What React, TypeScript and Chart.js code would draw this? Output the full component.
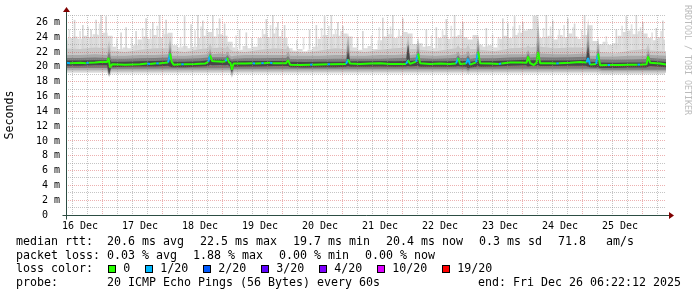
import React, { useEffect, useRef } from 'react';
import { Chart, registerables } from 'chart.js';

Chart.register(...registerables);

// ---------------- axis data ----------------
// x values are hours counted from 16 Dec 00:00; the graph spans 16 Dec 06:22 .. 26 Dec 06:22
const X_START_HOUR = 6.37;
const X_END_HOUR = 246.37;
const Y_MAX_MS = 27;
const DAY_LABELS = ['16 Dec', '17 Dec', '18 Dec', '19 Dec', '20 Dec', '21 Dec', '22 Dec', '23 Dec', '24 Dec', '25 Dec'];
const Y_TICK_LABELS = ['0  ', '2 m', '4 m', '6 m', '8 m', '10 m', '12 m', '14 m', '16 m', '18 m', '20 m', '22 m', '24 m', '26 m'];

// ---------------- smoke (outer, light) ----------------
const SMOKE_HOURS = [
  6, 8, 10, 12, 14, 16, 18, 20, 22,
  24, 26, 28, 30, 32, 34, 36, 38, 40, 42, 44, 46,
  48, 50, 52, 54, 56, 58, 60, 62, 64, 66, 68, 70,
  72, 74, 76, 78, 80, 82, 84, 86, 88, 90, 92, 94,
  96, 98, 100, 102, 104, 106, 108, 110, 112, 114, 116, 118,
  120, 122, 124, 126, 128, 130, 132, 134, 136, 138, 140, 142,
  144, 146, 148, 150, 152, 154, 156, 158, 160, 162, 164, 166,
  168, 170, 172, 174, 176, 178, 180, 182, 184, 186, 188, 190,
  192, 194, 196, 198, 200, 202, 204, 206, 208, 210, 212, 214,
  216, 218, 220, 222, 224, 226, 228, 230, 232, 234, 236, 238,
  240, 242, 244, 246,
];
const SMOKE_TOP_MS = [
  23.6, 23.9, 24.1, 23.8, 24.2, 24.0, 24.4, 24.3, 24.6,
  24.2, 22.7, 22.4, 22.6, 22.5, 22.9, 23.7, 24.1, 23.8, 24.3, 24.0, 24.4,
  24.6, 22.9, 22.6, 22.8, 22.5, 22.7, 23.9, 24.2, 24.7, 24.1, 24.4, 24.2,
  23.4, 22.6, 22.3, 22.8, 22.5, 22.7, 23.9, 24.4, 24.0, 24.5, 24.1, 23.9,
  22.5, 22.2, 22.4, 22.1, 22.3, 22.7, 23.8, 24.3, 24.0, 24.4, 24.2, 24.5,
  24.1, 22.6, 22.3, 22.5, 22.8, 22.4, 23.6, 24.1, 24.4, 23.9, 24.2, 24.7,
  24.5, 23.1, 23.2, 22.7, 22.8, 22.5, 23.9, 24.3, 23.8, 24.1, 24.3, 24.0,
  23.7, 24.3, 23.0, 22.7, 22.9, 22.6, 23.8, 24.2, 23.9, 24.3, 24.6, 24.9,
  25.1, 26.9, 23.9, 24.0, 24.2, 23.7, 24.3, 24.0, 24.5, 24.1, 23.8, 24.3,
  25.6, 23.5, 23.1, 23.4, 23.0, 23.2, 24.2, 24.7, 24.9, 24.4, 24.8, 24.5,
  23.9, 23.6, 24.0, 23.7,
];

// thin single-ping spikes above the smoke
const SPIKE_BASE_MS = 22.4;
const SPIKE_HOURS = [
  10.0, 13.3, 16.6, 18.6, 20.6, 22.6, 28.6, 30.6, 34.6, 38.6, 41.3, 44.0, 46.6,
  54.0, 56.6, 59.3, 61.3, 65.3, 68.0, 70.0, 76.0, 78.7, 86.7, 89.3, 91.3, 94.0,
  104.0, 106.7, 110.0, 112.7, 115.3, 117.3, 125.3, 133.3, 137.3, 141.3,
  150.7, 154.7, 158.7, 162.0, 165.3, 174.7, 181.3, 183.3, 186.0, 189.3,
  198.7, 201.3, 207.3, 210.0, 214.0, 226.7, 230.7, 234.7, 237.3, 242.7, 245.3,
];
const SPIKE_TOP_MS = [
  26.3, 25.6, 25.0, 26.3, 27.0, 26.8, 24.6, 25.3, 24.8, 26.5, 26.0, 27.0, 26.3,
  26.8, 25.7, 27.0, 26.2, 27.0, 26.5, 25.8, 25.0, 24.6, 26.4, 27.0, 26.0, 25.6,
  25.0, 25.6, 26.8, 27.0, 26.0, 25.5, 24.8, 26.6, 27.0, 26.5,
  25.0, 25.3, 26.4, 27.0, 26.0, 25.2, 26.5, 25.8, 26.8, 26.0,
  27.0, 26.2, 26.5, 25.8, 27.0, 25.0, 26.8, 27.0, 26.0, 25.2, 26.2,
];
// fainter, shorter spikes in between
const FAINT_SPIKE_HOURS = [
  7.5, 11.8, 15.0, 19.6, 26.5, 32.4, 36.8, 40.0, 42.7, 45.2, 52.0, 57.8, 60.2, 62.4,
  66.6, 74.2, 80.5, 84.8, 88.0, 90.2, 92.6, 98.5, 101.2, 108.4, 111.3, 114.0, 116.2,
  122.8, 128.4, 131.5, 134.8, 136.0, 139.4, 152.4, 156.8, 160.3, 164.0, 176.8, 179.2,
  185.0, 187.6, 197.2, 200.0, 203.5, 205.4, 209.0, 212.4, 222.3, 228.6, 232.4, 236.0,
  240.6, 244.2,
];
const FAINT_SPIKE_TOP_MS = [
  25.0, 24.8, 25.4, 25.8, 23.8, 24.0, 25.2, 25.0, 25.5, 25.1, 24.0, 24.9, 25.4, 25.0,
  25.2, 24.2, 23.9, 25.0, 25.6, 25.3, 24.9, 23.6, 23.9, 25.2, 25.5, 25.0, 24.8,
  23.9, 24.2, 25.3, 25.1, 25.4, 25.0, 24.2, 24.9, 25.5, 25.0, 24.3, 24.0,
  25.4, 25.6, 25.2, 25.4, 25.0, 25.6, 25.3, 25.0, 24.1, 25.5, 25.7, 25.3,
  24.6, 24.8,
];

// ---------------- inner smoke layers ----------------
const BAND_HOURS = [
  6, 12, 18, 22.8, 23.6, 24.4, 30, 36, 42, 47.2,
  48, 48.8, 54, 60, 63.2, 64, 64.8, 68, 70.2, 71,
  71.8, 72.7, 73.5, 78, 84, 90, 94.4, 95.2, 96, 102,
  108, 114, 118.4, 119.2, 120, 126, 132, 138, 142.4, 143.2,
  144, 146.4, 147.2, 148, 154, 160, 162.4, 163.2, 164, 166.4,
  167.2, 168, 170.4, 171.2, 172, 178, 184, 190.4, 191.2, 192,
  194.4, 195.2, 196, 202, 208, 214.4, 215.2, 216, 218.4, 219.2,
  220, 226, 232, 238.4, 239.2, 240, 246.4,
];
const BAND2_TOP_MS = [
  22.5, 22.4, 22.6, 22.5, 23.6, 22.2, 22.0, 22.3, 22.5, 22.5,
  24.2, 22.2, 22.0, 22.4, 22.5, 23.2, 22.5, 22.6, 22.5, 22.8,
  22.4, 22.2, 22.1, 22.0, 22.3, 22.5, 22.4, 22.9, 22.1, 21.9,
  22.2, 22.5, 22.4, 24.6, 22.2, 22.0, 22.3, 22.5, 22.6, 24.4,
  22.4, 22.4, 24.0, 22.3, 22.1, 22.4, 22.5, 22.9, 22.5, 22.5,
  23.0, 22.4, 22.4, 24.4, 22.3, 22.1, 22.5, 22.6, 22.9, 22.6,
  22.7, 27.0, 22.7, 22.5, 22.6, 22.6, 26.6, 22.3, 22.2, 24.0,
  22.0, 21.8, 22.2, 22.4, 23.1, 22.2, 22.1,
];
const BAND3_TOP_MS = [
  21.6, 21.6, 21.7, 21.6, 22.8, 21.5, 21.5, 21.6, 21.6, 21.7,
  23.5, 21.5, 21.5, 21.6, 21.7, 22.5, 21.7, 21.8, 21.7, 22.1,
  21.6, 21.4, 21.5, 21.6, 21.6, 21.6, 21.6, 22.1, 21.5, 21.5,
  21.5, 21.6, 21.6, 24.0, 21.5, 21.5, 21.6, 21.6, 21.7, 23.6,
  21.6, 21.7, 23.2, 21.6, 21.5, 21.6, 21.7, 22.1, 21.6, 21.7,
  22.2, 21.6, 21.7, 23.7, 21.6, 21.6, 21.7, 21.7, 22.3, 21.7,
  21.8, 25.4, 21.8, 21.7, 21.7, 21.8, 25.0, 21.5, 21.5, 23.2,
  21.4, 21.4, 21.5, 21.5, 22.4, 21.6, 21.5,
];
const BAND4_TOP_MS = [
  21.2, 21.2, 21.25, 21.2, 22.0, 21.1, 21.1, 21.15, 21.2, 21.25,
  22.6, 21.1, 21.1, 21.15, 21.25, 21.9, 21.3, 21.3, 21.3, 21.6,
  21.2, 21.0, 21.1, 21.15, 21.15, 21.2, 21.2, 21.5, 21.05, 21.05,
  21.05, 21.1, 21.1, 23.0, 21.1, 21.1, 21.1, 21.15, 21.2, 23.0,
  21.2, 21.25, 22.4, 21.15, 21.1, 21.15, 21.2, 21.6, 21.2, 21.2,
  21.6, 21.1, 21.2, 22.8, 21.15, 21.15, 21.25, 21.3, 21.8, 21.25,
  21.3, 23.4, 21.3, 21.25, 21.3, 21.35, 23.6, 21.1, 21.05, 22.4,
  21.0, 20.95, 21.0, 21.05, 21.8, 21.2, 21.05,
];
const BAND5_TOP_MS = [
  20.85, 20.85, 20.9, 20.9, 21.3, 20.7, 20.7, 20.75, 20.8, 20.85,
  21.9, 20.7, 20.7, 20.75, 20.9, 21.5, 21.0, 21.0, 20.95, 21.25,
  20.9, 20.7, 20.75, 20.8, 20.8, 20.8, 20.8, 21.0, 20.7, 20.65,
  20.7, 20.7, 20.7, 22.1, 20.75, 20.75, 20.8, 20.75, 20.8, 23.0,
  20.8, 20.85, 21.9, 20.8, 20.75, 20.75, 20.8, 21.25, 20.8, 20.8,
  21.25, 20.7, 20.8, 22.1, 20.8, 20.8, 20.85, 20.95, 21.45, 20.9,
  20.9, 22.1, 20.85, 20.85, 20.85, 20.95, 22.7, 20.7, 20.65, 21.9,
  20.6, 20.55, 20.6, 20.6, 21.4, 20.85, 20.65,
];
const BAND5_BOTTOM_MS = [
  20.15, 20.15, 20.2, 20.2, 19.0, 19.95, 20.0, 20.05, 20.05, 20.15,
  20.0, 19.95, 19.95, 20.05, 20.1, 20.3, 20.2, 20.25, 20.2, 20.3,
  20.1, 19.3, 20.0, 20.05, 20.05, 20.1, 20.1, 20.1, 19.95, 19.9,
  19.95, 19.95, 20.0, 20.1, 20.0, 20.0, 20.05, 20.0, 20.05, 20.1,
  20.05, 20.1, 20.1, 20.0, 20.0, 20.0, 20.05, 20.1, 20.05, 20.0,
  19.8, 19.9, 20.0, 20.1, 20.0, 20.05, 20.15, 20.2, 20.0, 20.1,
  20.15, 20.2, 20.1, 20.1, 20.15, 20.15, 20.0, 19.95, 19.9, 19.95,
  19.85, 19.85, 19.9, 19.9, 20.0, 20.1, 19.95,
];

const LOW_HOURS = [6, 22.8, 23.6, 24.4, 72, 72.7, 73.5, 166.4, 167.2, 168, 219.2, 220.8, 246.4];
const BAND4_BOTTOM_MS = [19.85, 19.85, 18.9, 19.75, 19.8, 19.1, 19.75, 19.75, 19.55, 19.75, 19.75, 19.6, 19.6];
const BAND3_BOTTOM_MS = [19.6, 19.6, 18.8, 19.5, 19.55, 18.9, 19.5, 19.5, 19.35, 19.5, 19.5, 19.4, 19.4];
const BAND2_BOTTOM_MS = [19.4, 19.4, 18.7, 19.3, 19.35, 18.7, 19.3, 19.3, 19.2, 19.3, 19.3, 19.2, 19.2];
const BAND1_BOTTOM_MS = [19.2, 19.2, 18.6, 19.1, 19.15, 18.5, 19.1, 19.1, 19.0, 19.1, 19.1, 19.0, 19.0];

// ---------------- median rtt ----------------
const MEDIAN_HOURS = [
  6.4, 8, 12, 14.5, 15.5, 18, 21, 22.8, 23.4, 24.0,
  24.8, 30, 36, 38.8, 40, 42.5, 43.5, 46, 47.2, 47.7,
  48.0, 48.6, 49.4, 52.5, 53.5, 58, 62, 63.3, 64.0, 64.8,
  66, 69, 70.2, 70.8, 71.6, 72.2, 72.7, 73.4, 78, 81,
  82, 84.5, 85.5, 88, 89, 94.4, 95.2, 96, 100, 104,
  105, 111, 112, 118.4, 119.2, 120, 124, 128, 132, 136,
  142.4, 143.2, 144, 146.4, 147.2, 148, 152, 156, 160, 162.4,
  163.2, 164, 166.4, 167.2, 168, 170.4, 171.2, 172, 176, 179.5,
  180.5, 184, 188, 190.6, 191.2, 192, 193.5, 194.6, 195.2, 196,
  200, 202.5, 203.5, 208, 212, 214.6, 215.2, 216, 218.4, 219.2,
  220, 223, 224, 228, 232, 235, 236, 238.6, 239.2, 240,
  244, 246.4,
];
const MEDIAN_MS = [
  20.55, 20.5, 20.55, 20.5, 20.55, 20.6, 20.7, 20.65, 21.2, 19.9,
  20.35, 20.3, 20.35, 20.45, 20.4, 20.5, 20.45, 20.55, 20.6, 21.3,
  21.8, 20.7, 20.3, 20.35, 20.35, 20.4, 20.45, 20.7, 21.6, 20.8,
  20.75, 20.7, 20.75, 21.2, 20.6, 20.5, 19.6, 20.45, 20.45, 20.5,
  20.45, 20.5, 20.5, 20.55, 20.5, 20.5, 20.9, 20.3, 20.25, 20.3,
  20.3, 20.35, 20.35, 20.4, 21.0, 20.45, 20.4, 20.45, 20.5, 20.4,
  20.4, 20.9, 20.4, 20.7, 21.8, 20.5, 20.4, 20.45, 20.4, 20.45,
  21.2, 20.4, 20.45, 21.1, 20.3, 20.6, 22.05, 20.5, 20.45, 20.4,
  20.45, 20.6, 20.6, 20.55, 21.4, 20.5, 20.25, 20.6, 22.0, 20.5,
  20.5, 20.45, 20.5, 20.55, 20.65, 20.6, 21.2, 20.3, 20.4, 21.8,
  20.2, 20.25, 20.25, 20.25, 20.3, 20.3, 20.3, 20.35, 21.4, 20.55,
  20.45, 20.3,
];
// lost pings (of 20) for the segment starting at each median point
const MEDIAN_LOSS = [
  1, 0, 0, 1, 0, 0, 0, 0, 0, 0,
  0, 0, 0, 1, 0, 1, 0, 0, 1, 1,
  0, 0, 0, 1, 0, 0, 0, 1, 0, 0,
  0, 0, 1, 0, 0, 0, 0, 0, 0, 1,
  0, 1, 0, 1, 0, 0, 0, 0, 0, 1,
  0, 1, 0, 1, 0, 0, 0, 0, 0, 0,
  1, 0, 0, 1, 0, 0, 0, 0, 0, 1,
  0, 0, 1, 1, 0, 1, 0, 0, 0, 1,
  0, 0, 0, 0, 0, 0, 0, 0, 0, 0,
  0, 1, 0, 0, 0, 1, 1, 0, 1, 0,
  0, 1, 0, 0, 0, 1, 0, 0, 0, 0,
  0, 0,
];

// ---------------- legend ----------------
const LOSS_LEVELS = [0, 1, 2, 3, 4, 10, 19];
const LOSS_LABELS = ['0', '1/20', '2/20', '3/20', '4/20', '10/20', '19/20'];
const LOSS_COLORS = ['#26ff00', '#00b8ff', '#0059ff', '#5e00ff', '#7e00ff', '#dd00ff', '#ff0000'];
const RTT_STATS = ['20.6 ms avg', '22.5 ms max', '19.7 ms min', '20.4 ms now', '0.3 ms sd', '71.8'];
const RTT_UNIT = 'am/s';
const LOSS_STATS = ['0.03 % avg', '1.88 % max', '0.00 % min', '0.00 % now'];
const PROBE_TEXT = '20 ICMP Echo Pings (56 Bytes) every 60s';
const END_TEXT = 'end: Fri Dec 26 06:22:12 2025';
const WATERMARK = 'RRDTOOL / TOBI OETIKER';

// ---------------- styling ----------------
const MONO = "'DejaVu Sans Mono', monospace";
const SMOKE_COLORS = ['#dcdcdc', '#c8c8c8', '#a9a9a9', '#7c7c7c', '#474747'];
const GRID_COLOR = 'rgba(140,140,140,0.5)';
const MGRID_COLOR = 'rgba(210,60,60,0.4)';
const AXIS_COLOR = '#2c4d43';
const ARROW_COLOR = '#7f0000';
const LEGEND_SIZE = 11.63;
const CHAR_W = 7;

const pts = (xs: number[], ys: number[]) => xs.map((x, i) => ({ x, y: ys[i] }));
const lossColor = (n: number) => LOSS_COLORS[Math.max(0, LOSS_LEVELS.indexOf(n))];

const axisPlugin = {
  id: 'rrdAxes',
  afterDraw(chart: any) {
    const { ctx, chartArea: a } = chart;
    const x0 = Math.round(a.left) + 0.5;
    const y0 = Math.round(a.bottom) + 0.5;
    ctx.save();
    ctx.strokeStyle = AXIS_COLOR;
    ctx.lineWidth = 1;
    ctx.beginPath();
    ctx.moveTo(x0 - 4, y0);
    ctx.lineTo(a.right + 4, y0);
    ctx.moveTo(x0, y0 + 4);
    ctx.lineTo(x0, a.top - 4);
    ctx.stroke();
    ctx.fillStyle = ARROW_COLOR;
    ctx.beginPath();
    ctx.moveTo(a.right + 3, y0 - 3.5);
    ctx.lineTo(a.right + 8, y0);
    ctx.lineTo(a.right + 3, y0 + 3.5);
    ctx.closePath();
    ctx.fill();
    ctx.beginPath();
    ctx.moveTo(x0 - 3.5, a.top - 3);
    ctx.lineTo(x0, a.top - 8);
    ctx.lineTo(x0 + 3.5, a.top - 3);
    ctx.closePath();
    ctx.fill();
    ctx.restore();
  },
};

function buildConfig(): any {
  const hidden = (xs: number[], ys: number[]) => ({
    type: 'line', data: pts(xs, ys), borderWidth: 0, borderColor: 'rgba(0,0,0,0)',
    pointRadius: 0, fill: false, order: 50,
  });
  const band = (xs: number[], ys: number[], color: string, target: number, order: number, stepped: any) => ({
    type: 'line', data: pts(xs, ys), borderWidth: 0, borderColor: 'rgba(0,0,0,0)',
    backgroundColor: color, pointRadius: 0, fill: { target }, order, stepped,
  });
  const spikes = (xs: number[], ys: number[], color: string, order: number) => ({
    type: 'bar',
    data: xs.map((x, i) => ({ x, y: [SPIKE_BASE_MS, ys[i]] })),
    backgroundColor: color, barThickness: 1, order, borderWidth: 0,
  });
  const datasets: any[] = [
    hidden(LOW_HOURS, BAND1_BOTTOM_MS), // 0
    hidden(LOW_HOURS, BAND2_BOTTOM_MS), // 1
    hidden(LOW_HOURS, BAND3_BOTTOM_MS), // 2
    hidden(LOW_HOURS, BAND4_BOTTOM_MS), // 3
    hidden(BAND_HOURS, BAND5_BOTTOM_MS), // 4
    band(SMOKE_HOURS, SMOKE_TOP_MS, SMOKE_COLORS[0], 0, 30, 'middle'),
    spikes(FAINT_SPIKE_HOURS, FAINT_SPIKE_TOP_MS, '#e2e2e2', 29.5),
    spikes(SPIKE_HOURS, SPIKE_TOP_MS, '#d6d6d6', 29),
    band(BAND_HOURS, BAND2_TOP_MS, SMOKE_COLORS[1], 1, 28, false),
    band(BAND_HOURS, BAND3_TOP_MS, SMOKE_COLORS[2], 2, 27, false),
    band(BAND_HOURS, BAND4_TOP_MS, SMOKE_COLORS[3], 3, 26, false),
    band(BAND_HOURS, BAND5_TOP_MS, SMOKE_COLORS[4], 4, 25, false),
    {
      type: 'line', data: pts(MEDIAN_HOURS, MEDIAN_MS), borderWidth: 2, pointRadius: 0, fill: false,
      borderColor: LOSS_COLORS[0], borderJoinStyle: 'bevel', order: 1,
      segment: { borderColor: (c: any) => lossColor(MEDIAN_LOSS[c.p0DataIndex]) },
    },
  ];

  const tickFont = { family: MONO, size: 10 };
  return {
    type: 'line',
    data: { datasets },
    plugins: [axisPlugin],
    options: {
      animation: false,
      responsive: false,
      devicePixelRatio: 1,
      events: [],
      layout: { padding: { left: 0, right: 31, top: 15, bottom: 0 } },
      plugins: { legend: { display: false }, tooltip: { enabled: false }, title: { display: false } },
      scales: {
        x: {
          type: 'linear', min: X_START_HOUR, max: X_END_HOUR, offset: false,
          afterBuildTicks: (s: any) => {
            const t: any[] = [];
            for (let h = 12; h <= X_END_HOUR; h += 6) t.push({ value: h });
            s.ticks = t;
          },
          afterFit: (s: any) => { s.height = 82; },
          ticks: {
            autoSkip: false, maxRotation: 0, minRotation: 0, padding: 5, color: '#000', font: tickFont,
            callback: (v: any) => {
              const h = Number(v);
              return h % 24 === 12 ? DAY_LABELS[(h - 12) / 24] ?? '' : '';
            },
          },
          grid: {
            z: 1, drawTicks: false, lineWidth: 1,
            color: (c: any) => (c.tick && c.tick.value % 24 === 0 ? MGRID_COLOR : GRID_COLOR),
          },
          border: { display: false, dash: [1, 1] },
        },
        y: {
          type: 'linear', min: 0, max: Y_MAX_MS,
          afterBuildTicks: (s: any) => {
            const t: any[] = [];
            for (let v = 0; v <= Y_MAX_MS; v++) t.push({ value: v });
            s.ticks = t;
          },
          afterFit: (s: any) => { s.width = 66; },
          ticks: {
            autoSkip: false, padding: 6, color: '#000', font: tickFont,
            callback: (v: any) => (Number(v) % 2 === 0 ? Y_TICK_LABELS[Number(v) / 2] ?? '' : ''),
          },
          grid: {
            z: 1, drawTicks: false, lineWidth: 1,
            color: (c: any) => (!c.tick || c.tick.value === 0 ? 'rgba(0,0,0,0)' : c.tick.value % 2 === 0 ? MGRID_COLOR : GRID_COLOR),
          },
          border: { display: false, dash: [1, 1] },
          title: {
            display: true, text: 'Seconds', color: '#000',
            font: { family: MONO, size: LEGEND_SIZE }, padding: { top: 3, bottom: 0 },
          },
        },
      },
    },
  };
}

const textStyle = (left: number, top: number): React.CSSProperties => ({
  position: 'absolute', left, top, font: `${LEGEND_SIZE}px ${MONO}`, lineHeight: '14px',
  whiteSpace: 'pre', color: '#000', margin: 0,
});

const LINE_TOPS = [234, 247.7, 261.3, 275];
const VALUE_LEFT = 107;
const ITEM_GAP = 16;

function placeItems(items: string[], start: number, gap: number) {
  const out: { x: number; t: string }[] = [];
  let x = start;
  for (const t of items) {
    out.push({ x, t });
    x += t.length * CHAR_W + gap;
  }
  return out;
}

export default function App() {
  const canvasRef = useRef<HTMLCanvasElement>(null);
  useEffect(() => {
    const canvas = canvasRef.current;
    if (!canvas) return;
    const chart = new Chart(canvas, buildConfig());
    return () => chart.destroy();
  }, []);

  const rtt = placeItems(RTT_STATS, VALUE_LEFT, ITEM_GAP);
  const last = rtt[rtt.length - 1];
  const unitX = last.x + last.t.length * CHAR_W + 20;
  const loss = placeItems(LOSS_STATS, VALUE_LEFT, ITEM_GAP);
  const swatches: { x: number; label: string; color: string }[] = [];
  let sx = 108.3;
  LOSS_LABELS.forEach((label, i) => {
    swatches.push({ x: sx, label, color: LOSS_COLORS[i] });
    sx += 15 + label.length * CHAR_W + 15;
  });

  return (
    <div style={{ position: 'fixed', left: 0, top: 0, width: 697, height: 297, background: '#fff', overflow: 'hidden' }}>
      <canvas ref={canvasRef} width={697} height={297} style={{ position: 'absolute', left: 0, top: 0, width: 697, height: 297 }} />
      <div style={{
        position: 'absolute', left: 682.7, top: 4.5, writingMode: 'vertical-rl', font: `8.3px ${MONO}`,
        lineHeight: '10px', width: 10, color: '#bbbbbb', whiteSpace: 'pre',
      }}>{WATERMARK}</div>

      <div style={textStyle(16, LINE_TOPS[0])}>median rtt:</div>
      {rtt.map((it, i) => <div key={'r' + i} style={textStyle(it.x, LINE_TOPS[0])}>{it.t}</div>)}
      <div style={textStyle(unitX, LINE_TOPS[0])}>{RTT_UNIT}</div>

      <div style={textStyle(16, LINE_TOPS[1])}>packet loss:</div>
      {loss.map((it, i) => <div key={'l' + i} style={textStyle(it.x, LINE_TOPS[1])}>{it.t}</div>)}

      <div style={textStyle(16, LINE_TOPS[2])}>loss color:</div>
      {swatches.map((s, i) => (
        <React.Fragment key={'s' + i}>
          <div style={{ position: 'absolute', left: s.x, top: 265, width: 8, height: 8, boxSizing: 'border-box', border: '1px solid #000', background: s.color }} />
          <div style={textStyle(s.x + 15, LINE_TOPS[2])}>{s.label}</div>
        </React.Fragment>
      ))}

      <div style={textStyle(16, LINE_TOPS[3])}>probe:</div>
      <div style={textStyle(VALUE_LEFT, LINE_TOPS[3])}>{PROBE_TEXT}</div>
      <div style={textStyle(681 - END_TEXT.length * CHAR_W, LINE_TOPS[3])}>{END_TEXT}</div>
    </div>
  );
}
